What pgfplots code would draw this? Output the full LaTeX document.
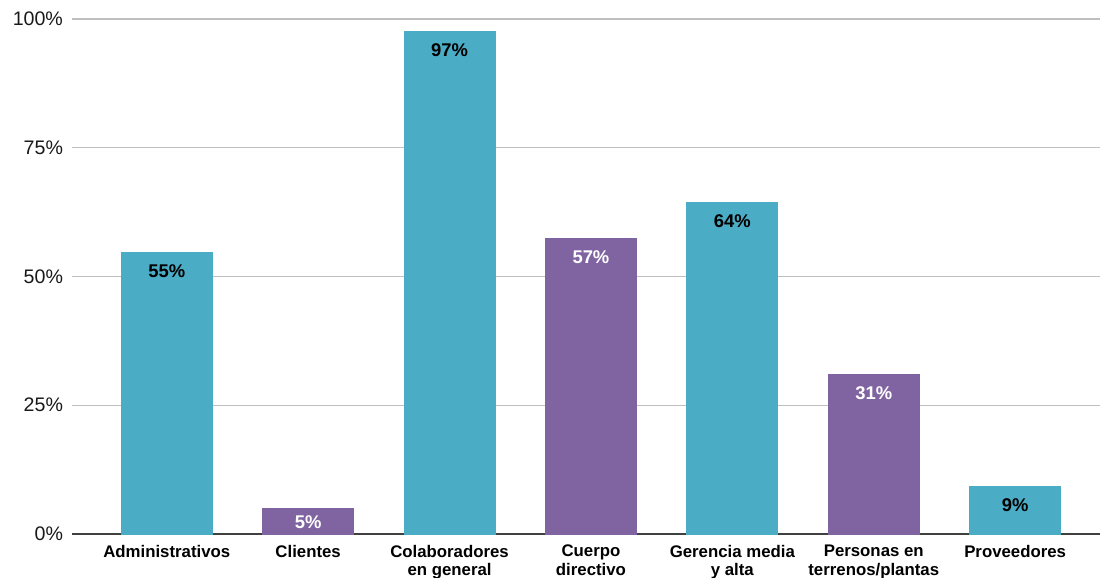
\documentclass[border=0pt]{standalone}
\usepackage{fontspec}
\setmainfont{Liberation Sans}
\usepackage{pgfplots}
\pgfplotsset{compat=1.18}
\definecolor{teal1}{HTML}{4BACC6}
\definecolor{purp1}{HTML}{8064A2}
\definecolor{gridc}{HTML}{BFBFBF}
\begin{document}
\begin{tikzpicture}
\begin{axis}[
  at={(36pt,22pt)}, anchor=south west,
  scale only axis,
  width=514pt, height=257.5pt,
  xmin=-0.67, xmax=6.6,
  ymin=0, ymax=100,
  ytick={0,25,50,75,100},
  yticklabel={\pgfmathprintnumber{\tick}\%},
  /pgf/number format/assume math mode=true,
  yticklabel style={font=\fontsize{9.8}{11}\selectfont, color=black!90, xshift=-1pt},
  ymajorgrids, grid style={gridc, line width=0.7pt},
  axis y line*=left,
  y axis line style={draw=none},
  axis x line*=bottom,
  x axis line style={black!75, line width=0.8pt, -},
  xtick={0,...,6},
  xticklabels={Administrativos, Clientes, Colaboradores\\en general, Cuerpo\\directivo, Gerencia media\\y alta, Personas en\\terrenos/plantas, Proveedores},
  xticklabel style={font=\bfseries\fontsize{8.4}{9.2}\selectfont, align=center, anchor=north, yshift=-2pt},
  major tick length=0pt,
  ybar, bar width=45.5pt, bar shift=0pt,
  point meta=explicit symbolic,
  nodes near coords,
  nodes near coords align={anchor=north},
  every node near coord/.append style={font=\bfseries\fontsize{9.2}{10}\selectfont, yshift=-2.5pt},
  clip=false,
]
\addplot[fill=teal1, draw=teal1, every node near coord/.append style={text=black}] coordinates {
  (0,54.6) [55\%]
  (2,97.5) [97\%]
  (4,64.3) [64\%]
  (6,9.3) [9\%]
};
\addplot[fill=purp1, draw=purp1, every node near coord/.append style={text=white}] coordinates {
  (3,57.3) [57\%]
  (5,30.9) [31\%]
};
\addplot[fill=purp1, draw=purp1, every node near coord/.append style={text=white, yshift=2.5pt}] coordinates {
  (1,5.0) [5\%]
};
\end{axis}
\pgfresetboundingbox
\path[use as bounding box] (0,0) rectangle (550pt,289pt);
\end{tikzpicture}
\end{document}
